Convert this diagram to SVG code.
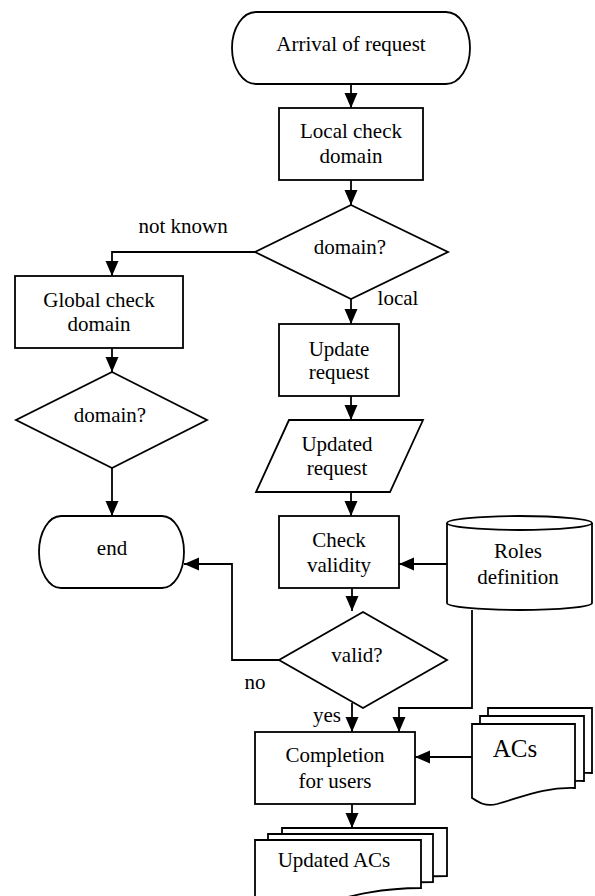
<svg xmlns="http://www.w3.org/2000/svg" width="595" height="896" viewBox="0 0 595 896" font-family="'Liberation Serif', 'DejaVu Serif', serif">
<defs>
<marker id="arr" markerUnits="userSpaceOnUse" markerWidth="16" markerHeight="14" refX="15" refY="6.5" orient="auto">
<path d="M0,0 L15,6.5 L0,13 Z" fill="#000"/>
</marker>
<style>
.s{fill:#fff;stroke:#000;stroke-width:1.8}
.c{fill:none;stroke:#000;stroke-width:1.8;marker-end:url(#arr)}
.l{fill:none;stroke:#000;stroke-width:1.8}
text{font-family:'Liberation Serif','DejaVu Serif',serif;font-size:21px;fill:#000;text-anchor:middle}
</style>
</defs>
<rect width="595" height="896" fill="#fff"/>
<g id="connectors">
<path class="c" d="M351,84 V108"/>
<path class="c" d="M351,180 V205"/>
<path class="c" d="M255,252 H112 V276"/>
<path class="c" d="M351,299 V324"/>
<path class="c" d="M112,348 V372"/>
<path class="c" d="M112,468 V516"/>
<path class="c" d="M351,396 V420"/>
<path class="c" d="M351,492 V516"/>
<path class="c" d="M447,564 H399"/>
<path class="c" d="M352,588 V611"/>
<path class="c" d="M279,660 H232 V564 H184"/>
<path class="c" d="M352,703 V732"/>
<path class="c" d="M472,610 V708 H399 V732"/>
<path class="c" d="M472,757 H415"/>
<path class="c" d="M352,804 V828"/>
<text x="183" y="233">not known</text>
<text x="398" y="305">local</text>
<text x="255" y="689">no</text>
<text x="327" y="722">yes</text>
</g>
<g id="start">
<rect class="s" x="232" y="12" width="238" height="72" rx="24" ry="36"/>
<text x="351" y="51">Arrival of request</text>
</g>
<g id="local-check">
<rect class="s" x="279" y="108" width="144" height="72"/>
<text x="351" y="138">Local check</text>
<text x="351" y="163">domain</text>
</g>
<g id="domain-decision">
<polygon class="s" points="351,205 448,252 351,299 255,252"/>
<text x="350" y="254">domain?</text>
</g>
<g id="global-check">
<rect class="s" x="15" y="276" width="168" height="72"/>
<text x="99" y="307">Global check</text>
<text x="99" y="331">domain</text>
</g>
<g id="domain-decision-2">
<polygon class="s" points="112,372 207,420 112,468 16,420"/>
<text x="110" y="422">domain?</text>
</g>
<g id="end">
<rect class="s" x="39" y="516" width="145" height="72" rx="22" ry="36"/>
<text x="112" y="555">end</text>
</g>
<g id="update-request">
<rect class="s" x="279" y="324" width="120" height="72"/>
<text x="339" y="356">Update</text>
<text x="339" y="379">request</text>
</g>
<g id="updated-request">
<polygon class="s" points="289,420 423,420 390,492 256,492"/>
<text x="337" y="451">Updated</text>
<text x="337" y="475">request</text>
</g>
<g id="check-validity">
<rect class="s" x="279" y="516" width="120" height="72"/>
<text x="339" y="547">Check</text>
<text x="339" y="572">validity</text>
</g>
<g id="roles-definition">
<path class="s" d="M447,523 A72.5,7 0 0 1 592,523 V603 A72.5,7 0 0 1 447,603 Z"/>
<path class="l" d="M447,523 A72.5,7 0 0 0 592,523"/>
<text x="518" y="558">Roles</text>
<text x="518" y="584">definition</text>
</g>
<g id="valid-decision">
<polygon class="s" points="363,612 447,660 363,708 279,660"/>
<text x="357" y="662">valid?</text>
</g>
<g id="completion">
<rect class="s" x="255" y="732" width="160" height="72"/>
<text x="335" y="762">Completion</text>
<text x="335" y="788">for users</text>
</g>
<g id="acs">
<path class="s" d="M488,708 H592 V773 C560,772 540,780 513,788 C500,791 494,786 488,782 Z"/>
<path class="s" d="M480,716 H584 V781 C552,780 532,788 505,796 C492,799 486,794 480,790 Z"/>
<path class="s" d="M472,724 H575 V788 C545,787 525,796 497,804 C485,807 478,802 472,798 Z"/>
<text x="515" y="757" style="font-size:25px">ACs</text>
</g>
<g id="updated-acs">
<path class="s" d="M282,828 H447 V876 C400,876 370,886 330,896 C305,902 292,898 282,894 Z"/>
<path class="s" d="M268,834 H433 V882 C386,882 356,892 316,902 C291,908 278,904 268,900 Z"/>
<path class="s" d="M255,840 H421 V888 C374,888 344,898 304,908 C279,914 266,910 255,906 Z"/>
<text x="334" y="867">Updated ACs</text>
</g>
</svg>
